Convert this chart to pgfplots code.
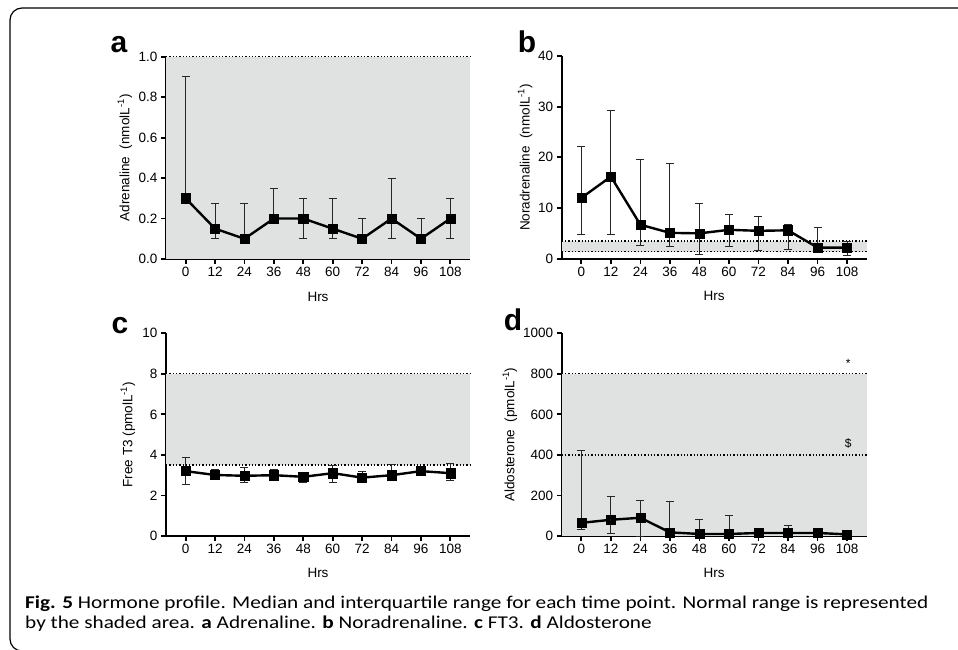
\documentclass[border=0pt]{standalone}
\usepackage{fontspec}
\setmainfont{Liberation Sans}
\newfontfamily\capfont[FakeStretch=1.18]{Carlito}
\usepackage{pgfplots}
\usepackage{pgfplotstable}
\pgfplotsset{compat=1.18}
\definecolor{shade}{RGB}{224,225,225}

\pgfplotstableread{
x y hi lo
0 0.30 0.90 0.30
12 0.15 0.275 0.10
24 0.10 0.275 0.10
36 0.20 0.35 0.20
48 0.20 0.30 0.10
60 0.15 0.30 0.10
72 0.10 0.20 0.10
84 0.20 0.40 0.10
96 0.10 0.20 0.10
108 0.20 0.30 0.10
}\adr
\pgfplotstableread{
x y hi lo
0 12.0 22.1 4.7
12 16.2 29.2 4.7
24 6.7 19.6 2.6
36 5.1 18.8 2.5
48 5.0 11.0 0.8
60 5.7 8.7 2.4
72 5.5 8.3 1.6
84 5.6 6.8 1.8
96 2.2 6.2 1.3
108 2.2 3.5 0.6
}\nor
\pgfplotstableread{
x y hi lo
0 3.20 3.90 2.52
12 3.01 3.28 2.85
24 2.97 3.38 2.63
36 3.00 3.28 2.85
48 2.92 2.98 2.62
60 3.10 3.48 2.63
72 2.88 3.18 2.72
84 3.00 3.52 2.92
96 3.20 3.28 3.12
108 3.10 3.58 2.72
}\ftt
\pgfplotstableread{
x y hi lo
0 65 422 33
12 80 197 12
24 90 175 0
36 18 172 0
48 10 80 0
60 10 100 0
72 15 28 5
84 15 50 3
96 15 35 5
108 8 12 0
}\ald

\pgfplotsset{
  panel/.style={
    scale only axis, clip=false,
    xmin=-8, xmax=116, ymin=0,
    axis x line*=bottom, axis y line*=left,
    axis line style={-, line width=2pt, black},
    xtick={0,12,...,108},
    tick align=outside, major tick length=5pt,
    tick style={line width=1.8pt, black},
    minor tick num=0,
    /pgf/number format/assume math mode=true,
    /pgf/number format/1000 sep={},
    ticklabel style={font=\fontsize{13.5}{16}\selectfont},
    label style={font=\fontsize{13.5}{16}\selectfont},
    xlabel={Hrs},
  },
  dat/.style={
    black, line width=2.4pt, mark=square*, mark size=4.6pt,
    mark options={solid, line width=0.5pt},
    error bars/.cd, y dir=both, y explicit,
    error bar style={line width=0.9pt, black!85},
    error mark options={line width=0.9pt, black!85, mark size=4pt, rotate=90},
  },
  dots/.style={black, dotted, line width=1.3pt},
}

\begin{document}
\begin{tikzpicture}
\useasboundingbox (0pt,0pt) rectangle (958pt,649pt);
\begin{scope}
\clip (0pt,0pt) rectangle (958pt,649pt);
\draw[line width=1.2pt, rounded corners=12pt] (10pt,-2pt) rectangle (995pt,641pt);
\end{scope}

% Panel a
\begin{axis}[panel, at={(166pt,390pt)}, anchor=south west, width=304pt, height=202.3pt,
  ymax=1.0, ytick={0,0.2,...,1.0},
  yticklabel style={/pgf/number format/.cd, fixed, fixed zerofill, precision=1},
  ylabel={Adrenaline\ \ (nmolL\textsuperscript{-1})},
  ylabel style={at={(axis description cs:-0.135,0.5)}, anchor=center},
  xlabel style={at={(axis description cs:0.5,-0.188)}, anchor=center}]
\addplot[draw=none, fill=shade] coordinates {(-8,0) (116,0) (116,1) (-8,1)};
\addplot[dots] coordinates {(-8,1) (116,1)};
\addplot[dat] table[x=x, y=y, y error plus expr=\thisrow{hi}-\thisrow{y}, y error minus expr=\thisrow{y}-\thisrow{lo}] {\adr};
\end{axis}

% Panel b
\begin{axis}[panel, at={(561.7pt,390.3pt)}, anchor=south west, width=305pt, height=202.7pt,
  ymax=40, ytick={0,10,...,40},
  ylabel={Noradrenaline\ \ (nmolL\textsuperscript{-1})},
  ylabel style={at={(axis description cs:-0.12,0.5)}, anchor=center},
  xlabel style={at={(axis description cs:0.5,-0.185)}, anchor=center}]
\addplot[draw=none, fill=shade] coordinates {(-8,1.4) (116,1.4) (116,3.5) (-8,3.5)};
\addplot[dots] coordinates {(-8,1.4) (116,1.4)};
\addplot[dots] coordinates {(-8,3.5) (116,3.5)};
\addplot[dat] table[x=x, y=y, y error plus expr=\thisrow{hi}-\thisrow{y}, y error minus expr=\thisrow{y}-\thisrow{lo}] {\nor};
\end{axis}

% Panel c
\begin{axis}[panel, at={(166pt,113pt)}, anchor=south west, width=304pt, height=202.7pt,
  ymax=10, ytick={0,2,...,10},
  ylabel={Free T3 (pmolL\textsuperscript{-1})},
  ylabel style={at={(axis description cs:-0.125,0.5)}, anchor=center},
  xlabel style={at={(axis description cs:0.5,-0.183)}, anchor=center}]
\addplot[draw=none, fill=shade] coordinates {(-8,3.5) (116,3.5) (116,8) (-8,8)};
\addplot[dots] coordinates {(-8,3.5) (116,3.5)};
\addplot[dots] coordinates {(-8,8) (116,8)};
\addplot[dat] table[x=x, y=y, y error plus expr=\thisrow{hi}-\thisrow{y}, y error minus expr=\thisrow{y}-\thisrow{lo}] {\ftt};
\end{axis}

% Panel d
\begin{axis}[panel, at={(561.7pt,113pt)}, anchor=south west, width=305pt, height=202.7pt,
  ymax=1000, ytick={0,200,...,1000},
  ylabel={Aldosterone\ \ (pmolL\textsuperscript{-1})},
  ylabel style={at={(axis description cs:-0.17,0.5)}, anchor=center},
  xlabel style={at={(axis description cs:0.5,-0.183)}, anchor=center}]
\addplot[draw=none, fill=shade] coordinates {(-8,0) (116,0) (116,800) (-8,800)};
\addplot[dots] coordinates {(-8,800) (116,800)};
\addplot[dots] coordinates {(-8,400) (116,400)};
\addplot[dat] table[x=x, y=y, y error plus expr=\thisrow{hi}-\thisrow{y}, y error minus expr=\thisrow{y}-\thisrow{lo}] {\ald};
\node[font=\fontsize{12}{14}\selectfont] at (axis cs:108.5,850) {*};
\node[font=\fontsize{12}{14}\selectfont] at (axis cs:108.5,455) {\$};
\end{axis}

% Panel letters
\node[anchor=base, inner sep=0, font=\fontsize{30}{32}\selectfont\bfseries] at (119pt,596pt) {a};
\node[anchor=base, inner sep=0, font=\fontsize{30}{32}\selectfont\bfseries] at (527pt,596pt) {b};
\node[anchor=base, inner sep=0, font=\fontsize{30}{32}\selectfont\bfseries] at (120pt,316pt) {c};
\node[anchor=base, inner sep=0, font=\fontsize{30}{32}\selectfont\bfseries] at (513pt,319pt) {d};

% Caption
\node[anchor=base west, inner sep=0] at (25pt,41pt) {\capfont\fontsize{18}{20}\selectfont \textbf{Fig. 5} Hormone profile. Median and interquartile range for each time point. Normal range is represented};
\node[anchor=base west, inner sep=0] at (25pt,21pt) {\capfont\fontsize{18}{20}\selectfont by the shaded area. \textbf{a} Adrenaline. \textbf{b} Noradrenaline. \textbf{c} FT3. \textbf{d} Aldosterone};
\end{tikzpicture}
\end{document}
